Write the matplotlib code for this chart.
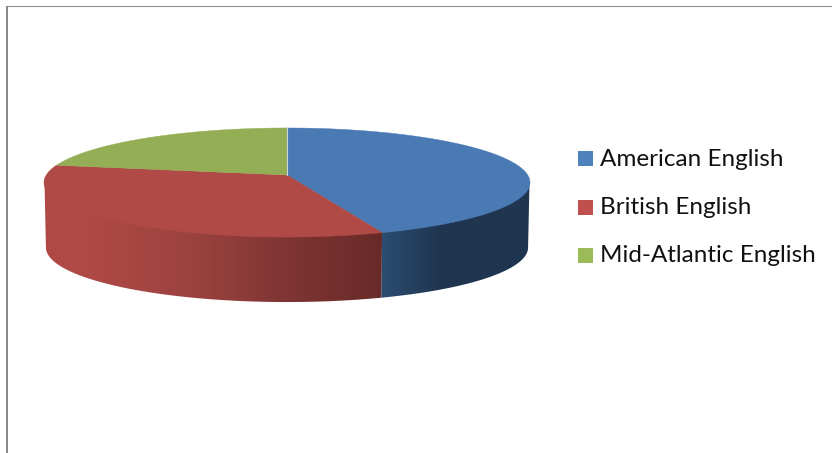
import numpy as np
import matplotlib
matplotlib.use('Agg')
import matplotlib.pyplot as plt
from matplotlib.colors import LinearSegmentedColormap
from matplotlib.patches import Polygon, Rectangle

categories = ['American English', 'British English', 'Mid-Atlantic English']
shares = [44.4, 33.6, 22.0]
top_colors = ['#4A7AB3', '#B04A46', '#93AE55']
legend_colors = ['#4F81BD', '#C0504D', '#9BBB59']

# projected disc, in pixels
CX, CY = 287, 175
RX, RY = 240.7, 53.5
TILT = 0.1376
DEPTH = 65


def rim(theta, drop=0.0, shrink=1.0):
    # theta runs clockwise from twelve o'clock
    u, v = np.sin(theta), np.cos(theta)
    w = 1 + TILT * v
    return CX + shrink * RX * u / w, CY - RY * v / w + drop


def wall(ax, start, end, stops):
    # side of the disc, shaded from left to right and clipped to the slice
    theta = np.linspace(start, end, 200)
    # upper edge tucked under the top so no white shows along the seam
    x1, y1 = rim(theta, -1.5, 0.998)
    x2, y2 = rim(theta[::-1], DEPTH, 0.992)
    outline = Polygon(np.column_stack([np.r_[x1, x2], np.r_[y1, y2]]),
                      closed=True, fc='none', ec='none', transform=ax.transData)
    ax.add_patch(outline)
    cmap = LinearSegmentedColormap.from_list('wall', stops)
    img = ax.imshow(np.linspace(0, 1, 256).reshape(1, -1), cmap=cmap, aspect='auto',
                    extent=[min(x1.min(), x2.min()), max(x1.max(), x2.max()), 453, 0],
                    interpolation='bilinear', zorder=2)
    img.set_clip_path(outline)


def main():
    fig = plt.figure(figsize=(8.32, 4.53), dpi=100)
    ax = fig.add_axes([0, 0, 1, 1])

    edges = np.r_[0, np.cumsum(shares)] / np.sum(shares) * 2 * np.pi

    # walls run between the two widest points of the disc
    widest = np.arccos(-TILT)
    wall(ax, 2 * np.pi - widest, edges[1],
         [(0.0, '#B04A46'), (0.14, '#AE4946'), (0.45, '#9B423F'),
          (0.72, '#7F3533'), (1.0, '#682A28')])
    wall(ax, edges[1], widest,
         [(0.0, '#2C4D70'), (0.4, '#1F3550'), (1.0, '#1F3550')])

    # top of the disc
    for i in range(len(shares)):
        theta = np.linspace(edges[i], edges[i + 1], 200)
        x, y = rim(theta)
        ax.add_patch(Polygon(np.column_stack([np.r_[CX, x], np.r_[CY, y]]), closed=True,
                             fc=top_colors[i], ec=top_colors[i], lw=0.3, zorder=3))

    # pale seam between the first and last slice
    x, y = rim(edges[0])
    ax.plot([CX, x], [CY, y], color='#C9D6DC', lw=0.8, zorder=4)

    # legend
    for i, label in enumerate(categories):
        yc = 158.5 + 48.5 * i
        ax.add_patch(Rectangle((578, yc - 7.5), 15, 15, fc=legend_colors[i], ec='none', zorder=3))
        ax.text(600, yc + 0.5, label, fontsize=17.5, family='Lato', color='#111111',
                va='center', ha='left', zorder=5)

    # chart frame, cut by the edges of the image
    ax.add_patch(Rectangle((6, 6), 2, 447, fc='#8A8A8A', ec='none', zorder=5))
    ax.add_patch(Rectangle((6, 6), 826, 1, fc='#8A8A8A', ec='none', zorder=5))

    ax.set_xlim(0, 832)
    ax.set_ylim(453, 0)
    ax.axis('off')
    fig.savefig('out.png', dpi=100, facecolor='white')


if __name__ == "__main__":
    main()
